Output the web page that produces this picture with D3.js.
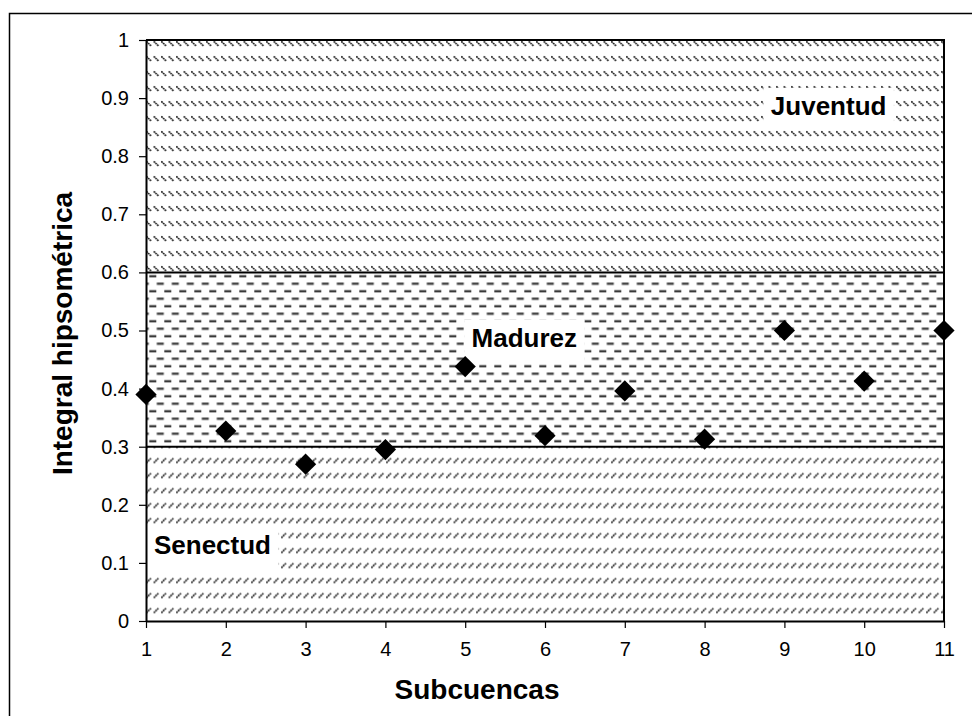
<!DOCTYPE html>
<html>
<head>
<meta charset="utf-8">
<script src="https://cdn.jsdelivr.net/npm/d3@7"></script>
<style>
  html, body { margin: 0; padding: 0; background: #fff; }
  svg { display: block; font-family: "Liberation Sans", Arial, sans-serif; }
</style>
</head>
<body>
<svg id="chart" width="972" height="716"></svg>
<script>
// Subcuencas (x) and their hypsometric integral (y)
const subcuencas = [1, 2, 3, 4, 5, 6, 7, 8, 9, 10, 11];
const integral = [0.39, 0.327, 0.27, 0.295, 0.438, 0.319, 0.396, 0.313, 0.5, 0.413, 0.5];

// Axis ticks
const yTickValues = [0, 0.1, 0.2, 0.3, 0.4, 0.5, 0.6, 0.7, 0.8, 0.9, 1];
const yTickLabels = ["0", "0.1", "0.2", "0.3", "0.4", "0.5", "0.6", "0.7", "0.8", "0.9", "1"];

// Evolutionary stages: lower/upper bound of each band
const etapas = ["Senectud", "Madurez", "Juventud"];
const etapaDesde = [0, 0.3, 0.6];
const etapaHasta = [0.3, 0.6, 1];

const svg = d3.select("#chart");
const W = 972, H = 716;
const plotL = 146, plotR = 944, plotT = 40, plotB = 621;

const x = d3.scaleLinear().domain([1, 11]).range([plotL, plotR]);
const y = d3.scaleLinear().domain([0, 1]).range([plotB, plotT]);

// outer frame
svg.append("rect")
  .attr("x", 9.5).attr("y", 13.5)
  .attr("width", W + 10).attr("height", H + 10)
  .attr("fill", "#fff").attr("stroke", "#000").attr("stroke-width", 1.5);

// fill patterns for the three bands
const defs = svg.append("defs");
const ink = "#222";

const pJuv = defs.append("pattern").attr("id", "p-juventud")
  .attr("patternUnits", "userSpaceOnUse")
  .attr("x", plotL).attr("y", plotT).attr("width", 7.5).attr("height", 15);
pJuv.append("line").attr("x1", 0.3).attr("y1", 1.3).attr("x2", 5.4).attr("y2", 6.4)
  .attr("stroke", ink).attr("stroke-width", 1.7).attr("stroke-dasharray", "1.8 0.6");

const pMad = defs.append("pattern").attr("id", "p-madurez")
  .attr("patternUnits", "userSpaceOnUse")
  .attr("x", 149.3).attr("y", y(0.6)).attr("width", 15).attr("height", 15);
pMad.append("rect").attr("x", 0).attr("y", 2.75).attr("width", 7).attr("height", 2.2).attr("fill", "#333");
pMad.append("rect").attr("x", 7.5).attr("y", 10.25).attr("width", 7).attr("height", 2.2).attr("fill", "#333");

const pSen = defs.append("pattern").attr("id", "p-senectud")
  .attr("patternUnits", "userSpaceOnUse")
  .attr("x", plotL).attr("y", 572.5).attr("width", 7.5).attr("height", 15);
pSen.append("line").attr("x1", 0.3).attr("y1", 10.4).attr("x2", 5.4).attr("y2", 5.3)
  .attr("stroke", ink).attr("stroke-width", 1.7).attr("stroke-dasharray", "1.8 0.6");

const fills = ["url(#p-senectud)", "url(#p-madurez)", "url(#p-juventud)"];

// bands
svg.append("g").selectAll("rect")
  .data(etapas)
  .join("rect")
  .attr("x", plotL)
  .attr("width", plotR - plotL)
  .attr("y", (d, i) => y(etapaHasta[i]))
  .attr("height", (d, i) => y(etapaDesde[i]) - y(etapaHasta[i]))
  .attr("fill", (d, i) => fills[i]);

// band boundaries
svg.append("g").selectAll("line")
  .data([0.3, 0.6])
  .join("line")
  .attr("x1", plotL).attr("x2", plotR)
  .attr("y1", d => y(d)).attr("y2", d => y(d))
  .attr("stroke", "#000").attr("stroke-width", 2);

// stage labels on white boxes
const labelPos = [
  { name: "Senectud", xv: 1.1, yv: 0.115 },
  { name: "Madurez", xv: 5.08, yv: 0.472 },
  { name: "Juventud", xv: 8.83, yv: 0.871 }
];
const lab = svg.append("g");
labelPos.forEach(p => {
  const g = lab.append("g");
  const t = g.append("text")
    .attr("x", x(p.xv)).attr("y", y(p.yv))
    .attr("font-size", 26).attr("font-weight", "bold").attr("fill", "#000")
    .text(p.name);
  const w = t.node().getComputedTextLength();
  g.insert("rect", "text")
    .attr("x", x(p.xv) - 7.5).attr("y", y(p.yv) - 27)
    .attr("width", w + 15).attr("height", 42)
    .attr("fill", "#fff");
});

// plot frame (top and right)
svg.append("path")
  .attr("d", `M${plotL},${plotT}H${plotR}V${plotB}`)
  .attr("fill", "none").attr("stroke", "#000").attr("stroke-width", 2);

// axes
const yAxis = d3.axisLeft(y).tickValues(yTickValues)
  .tickFormat((d, i) => yTickLabels[i]).tickSizeInner(7).tickSizeOuter(0).tickPadding(10);
const gy = svg.append("g").attr("transform", `translate(${plotL},0)`).call(yAxis);
gy.select(".domain").attr("stroke", "#000").attr("stroke-width", 2);
gy.selectAll(".tick line").attr("stroke", "#000").attr("stroke-width", 1.2);
gy.selectAll(".tick text").attr("font-size", 20).attr("fill", "#000")
  .attr("font-family", "Liberation Sans, Arial, sans-serif");

const xAxis = d3.axisBottom(x).tickValues(subcuencas)
  .tickFormat(d3.format("d")).tickSizeInner(7).tickSizeOuter(0).tickPadding(14);
const gx = svg.append("g").attr("transform", `translate(0,${plotB})`).call(xAxis);
gx.select(".domain").attr("stroke", "#000").attr("stroke-width", 2);
gx.selectAll(".tick line").attr("stroke", "#000").attr("stroke-width", 1.2);
gx.selectAll(".tick text").attr("font-size", 20).attr("fill", "#000")
  .attr("font-family", "Liberation Sans, Arial, sans-serif");

// markers
const diamond = d3.symbol().type(d3.symbolSquare).size(225);
svg.append("g").selectAll("path")
  .data(subcuencas)
  .join("path")
  .attr("d", diamond)
  .attr("transform", (d, i) => `translate(${x(d)},${y(integral[i])}) rotate(45)`)
  .attr("fill", "#000");

// axis titles
svg.append("text")
  .attr("x", 477).attr("y", 699)
  .attr("text-anchor", "middle")
  .attr("font-size", 28).attr("font-weight", "bold")
  .text("Subcuencas");

svg.append("text")
  .attr("transform", `translate(72,${(plotT + plotB) / 2 + 3}) rotate(-90)`)
  .attr("text-anchor", "middle")
  .attr("font-size", 28).attr("font-weight", "bold")
  .text("Integral hipsométrica");
</script>
</body>
</html>
